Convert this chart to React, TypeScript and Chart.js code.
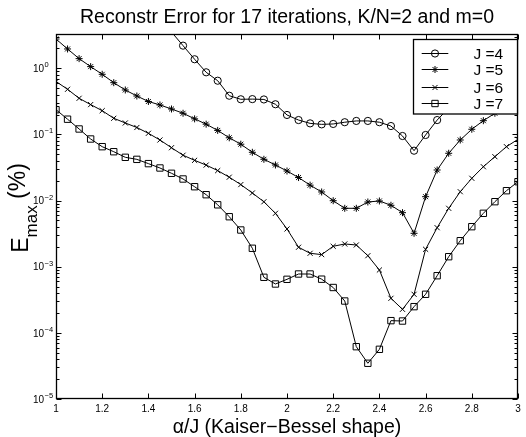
import React, { useEffect, useRef } from 'react';
import { Chart, registerables } from 'chart.js';

Chart.register(...registerables);

const TITLE = 'Reconstr Error for 17 iterations, K/N=2 and m=0';
const X_TITLE = 'α/J (Kaiser−Bessel shape)';

const alpha = [
  1.0, 1.05, 1.1, 1.15, 1.2, 1.25, 1.3, 1.35, 1.4, 1.45,
  1.5, 1.55, 1.6, 1.65, 1.7, 1.75, 1.8, 1.85, 1.9, 1.95,
  2.0, 2.05, 2.1, 2.15, 2.2, 2.25, 2.3, 2.35, 2.4, 2.45,
  2.5, 2.55, 2.6, 2.65, 2.7, 2.75, 2.8, 2.85, 2.9, 2.95,
  3.0,
];

const J4 = [
  null, null, null, null, null, null, null, null, null, null,
  3.54, 2.2, 1.37, 0.87, 0.649, 0.385, 0.34, 0.342, 0.338, 0.286,
  0.197, 0.165, 0.147, 0.142, 0.144, 0.153, 0.16, 0.16, 0.153, 0.134,
  0.0947, 0.0568, 0.0981, 0.165, 0.251, 0.332, 0.395, 0.454, 0.504, 0.54,
  0.559,
];

const J5 = [
  2.77, 1.96, 1.4, 1.06, 0.811, 0.606, 0.47, 0.381, 0.315, 0.279,
  0.2425, 0.209, 0.172, 0.143, 0.115, 0.089, 0.0712, 0.0537, 0.0421, 0.0345,
  0.028, 0.0223, 0.0171, 0.0135, 0.00996, 0.00764, 0.00764, 0.00952, 0.00986, 0.00849,
  0.00656, 0.0032, 0.01145, 0.029, 0.0519, 0.0824, 0.1197, 0.1614, 0.209, 0.2627,
  0.2988,
];

const J6 = [
  0.632, 0.4815, 0.352, 0.2826, 0.2286, 0.1754, 0.149, 0.1273, 0.104, 0.0824,
  0.063, 0.0485, 0.0406, 0.0344, 0.0284, 0.02257, 0.01745, 0.01302, 0.00959, 0.00642,
  0.00372, 0.00197, 0.001596, 0.001525, 0.002037, 0.002207, 0.00213, 0.001468, 0.000892, 0.000333,
  0.000227, 0.000383, 0.001834, 0.00389, 0.00764, 0.01362, 0.02173, 0.0325, 0.0461, 0.0653,
  0.0844,
];

const J7 = [
  0.2366, 0.17, 0.1209, 0.0853, 0.0653, 0.0548, 0.0451, 0.042, 0.0362, 0.0311,
  0.02585, 0.0212, 0.0162, 0.01227, 0.00863, 0.0057, 0.00359, 0.0019, 0.000692, 0.000548,
  0.000645, 0.000776, 0.000776, 0.000648, 0.000485, 0.000303, 0.0000618, 0.0000347, 0.0000564, 0.000153,
  0.000151, 0.000249, 0.000383, 0.000731, 0.001417, 0.002474, 0.00403, 0.00642, 0.00962, 0.0141,
  0.0193,
];

const seriesLabels = ['J =4', 'J =5', 'J =6', 'J =7'];
const xTicks = [1, 1.2, 1.4, 1.6, 1.8, 2, 2.2, 2.4, 2.6, 2.8, 3];
const xTickLabels = ['1', '1.2', '1.4', '1.6', '1.8', '2', '2.2', '2.4', '2.6', '2.8', '3'];
const yTickExps = [0, -1, -2, -3, -4, -5];

const X_MIN = 1;
const X_MAX = 3;
const Y_MIN = 1e-5;
const Y_MAX = 3.3;

const FONT = '"Liberation Sans", Arial, Helvetica, sans-serif';

function drawMarker(ctx: CanvasRenderingContext2D, style: string, x: number, y: number, r: number) {
  ctx.beginPath();
  if (style === 'circle') {
    ctx.arc(x, y, r, 0, Math.PI * 2);
  } else if (style === 'rect') {
    const s = Math.SQRT1_2 * r;
    ctx.rect(x - s, y - s, 2 * s, 2 * s);
  } else if (style === 'star') {
    ctx.moveTo(x - r, y); ctx.lineTo(x + r, y);
    ctx.moveTo(x, y - r); ctx.lineTo(x, y + r);
    const d = r * Math.SQRT1_2;
    ctx.moveTo(x - d, y - d); ctx.lineTo(x + d, y + d);
    ctx.moveTo(x - d, y + d); ctx.lineTo(x + d, y - d);
  } else if (style === 'crossRot') {
    const d = r * Math.SQRT1_2;
    ctx.moveTo(x - d, y - d); ctx.lineTo(x + d, y + d);
    ctx.moveTo(x - d, y + d); ctx.lineTo(x + d, y - d);
  }
  ctx.stroke();
}

const decorPlugin = {
  id: 'decor',
  afterDraw(chart: any) {
    const { ctx, chartArea: a, scales } = chart;
    const xs = scales.x;
    const ys = scales.y;
    ctx.save();
    ctx.fillStyle = '#000';
    ctx.strokeStyle = '#000';

    // title
    ctx.font = `19.5px ${FONT}`;
    ctx.textAlign = 'center';
    ctx.textBaseline = 'middle';
    ctx.fillText(TITLE, (a.left + a.right) / 2, 18);

    // axes box
    const L = Math.round(a.left) + 0.5;
    const R = Math.round(a.right) - 0.5;
    const T = Math.round(a.top) + 0.5;
    const B = Math.round(a.bottom) - 0.5;
    ctx.lineWidth = 1.3;
    ctx.strokeRect(L, T, R - L, B - T);
    ctx.lineWidth = 1;

    // x ticks
    ctx.beginPath();
    xTicks.forEach((v) => {
      const px = Math.round(xs.getPixelForValue(v)) + 0.5;
      ctx.moveTo(px, B); ctx.lineTo(px, B - 5);
      ctx.moveTo(px, T); ctx.lineTo(px, T + 5);
    });
    // y ticks (major & minor)
    yTickExps.forEach((e) => {
      for (let k = 1; k <= 9; k++) {
        const v = k * Math.pow(10, e);
        if (v < Y_MIN * 0.999 || v > Y_MAX) continue;
        const py = Math.round(ys.getPixelForValue(v)) + 0.5;
        const len = k === 1 ? 5 : 3;
        ctx.moveTo(L, py); ctx.lineTo(L + len, py);
        ctx.moveTo(R, py); ctx.lineTo(R - len, py);
      }
    });
    ctx.stroke();

    // x tick labels
    ctx.font = `10px ${FONT}`;
    ctx.textAlign = 'center';
    ctx.textBaseline = 'middle';
    xTicks.forEach((v, i) => {
      ctx.fillText(xTickLabels[i], xs.getPixelForValue(v), B + 11);
    });

    // y tick labels with exponent
    yTickExps.forEach((e) => {
      const py = ys.getPixelForValue(Math.pow(10, e));
      ctx.font = `10px ${FONT}`;
      ctx.textAlign = 'right';
      ctx.textBaseline = 'middle';
      ctx.fillText('10', 44, py + 1);
      ctx.font = `7.5px ${FONT}`;
      ctx.textAlign = 'left';
      ctx.fillText(e === 0 ? '0' : '−' + String(-e), 44.5, py - 3);
    });

    // x axis title
    ctx.font = `19.5px ${FONT}`;
    ctx.textAlign = 'center';
    ctx.textBaseline = 'middle';
    ctx.fillText(X_TITLE, (a.left + a.right) / 2, 428);

    // y axis title: E_max (%)
    ctx.save();
    ctx.translate(28, 208);
    ctx.rotate(-Math.PI / 2);
    ctx.textAlign = 'left';
    ctx.textBaseline = 'alphabetic';
    const bigFont = `23px ${FONT}`;
    const smallFont = `17px ${FONT}`;
    ctx.font = bigFont;
    const wE = ctx.measureText('E').width;
    const wP = ctx.measureText(' (%)').width;
    ctx.font = smallFont;
    const wM = ctx.measureText('max').width;
    const total = wE + wM + wP;
    let cx = -total / 2;
    ctx.font = bigFont;
    ctx.fillText('E', cx, 0);
    cx += wE;
    ctx.font = smallFont;
    ctx.fillText('max', cx, 9);
    cx += wM;
    ctx.font = bigFont;
    ctx.fillText(' (%)', cx, -3);
    ctx.restore();

    // legend
    const lx = 413.5, ly = 39.5, lw = 104, lh = 74.5;
    ctx.fillStyle = '#fff';
    ctx.fillRect(lx, ly, lw, lh);
    ctx.strokeStyle = '#000';
    ctx.lineWidth = 1.3;
    ctx.strokeRect(lx, ly, lw, lh);
    ctx.lineWidth = 1;
    ctx.fillStyle = '#000';
    ctx.font = `15.5px ${FONT}`;
    ctx.textAlign = 'left';
    ctx.textBaseline = 'middle';
    const rowsY = [52.7, 69.3, 86.5, 103.3];
    chart.data.datasets.forEach((ds: any, i: number) => {
      const y = Math.round(rowsY[i]) + 0.5;
      ctx.beginPath();
      ctx.moveTo(421.7, y); ctx.lineTo(448.3, y);
      ctx.stroke();
      drawMarker(ctx, ds.pointStyle, 435, y, ds.legendRadius);
      ctx.fillText(ds.label, 473.5, y + 1);
    });

    ctx.restore();
  },
};

function makeData(vals: (number | null)[]) {
  return alpha.map((a, i) => ({ x: a, y: vals[i] }));
}

export default function App() {
  const ref = useRef<HTMLCanvasElement | null>(null);
  useEffect(() => {
    if (!ref.current) return;
    const common = {
      borderColor: '#000',
      borderWidth: 1,
      pointBorderColor: '#000',
      pointBackgroundColor: 'rgba(0,0,0,0)',
      pointBorderWidth: 1,
      tension: 0,
      spanGaps: false,
    };
    const hideOut = (r: number) => (c: any) => {
      const v = c.raw && c.raw.y;
      return v != null && v > Y_MAX ? 0 : r;
    };
    const chart = new Chart(ref.current, {
      type: 'line',
      data: {
        datasets: [
          { ...common, label: seriesLabels[0], data: makeData(J4), pointStyle: 'circle', pointRadius: hideOut(3.6), legendRadius: 3.6 } as any,
          { ...common, label: seriesLabels[1], data: makeData(J5), pointStyle: 'star', pointRadius: 3.5, legendRadius: 3.5 } as any,
          { ...common, label: seriesLabels[2], data: makeData(J6), pointStyle: 'crossRot', pointRadius: 3.6, legendRadius: 3.6 } as any,
          { ...common, label: seriesLabels[3], data: makeData(J7), pointStyle: 'rect', pointRadius: 4.5, legendRadius: 4.5 } as any,
        ],
      },
      options: {
        animation: false,
        responsive: false,
        devicePixelRatio: 1,
        layout: { padding: { left: 0, right: 8, top: 34, bottom: 0 } },
        plugins: {
          legend: { display: false },
          title: { display: false },
          tooltip: { enabled: false },
        },
        elements: { point: { hoverRadius: 0 } },
        scales: {
          x: {
            type: 'linear',
            min: X_MIN,
            max: X_MAX,
            grid: { display: false },
            border: { display: false },
            ticks: { display: false },
            afterFit: (s: any) => { s.height = 38; },
          },
          y: {
            type: 'logarithmic',
            min: Y_MIN,
            max: Y_MAX,
            grid: { display: false },
            border: { display: false },
            ticks: { display: false },
            afterFit: (s: any) => { s.width = 56; },
          },
        },
      } as any,
      plugins: [decorPlugin],
    });
    return () => chart.destroy();
  }, []);
  return (
    <div style={{ position: 'absolute', left: 0, top: 0, width: 526, height: 437, background: '#fff' }}>
      <canvas ref={ref} width={526} height={437} style={{ display: 'block' }} />
    </div>
  );
}
